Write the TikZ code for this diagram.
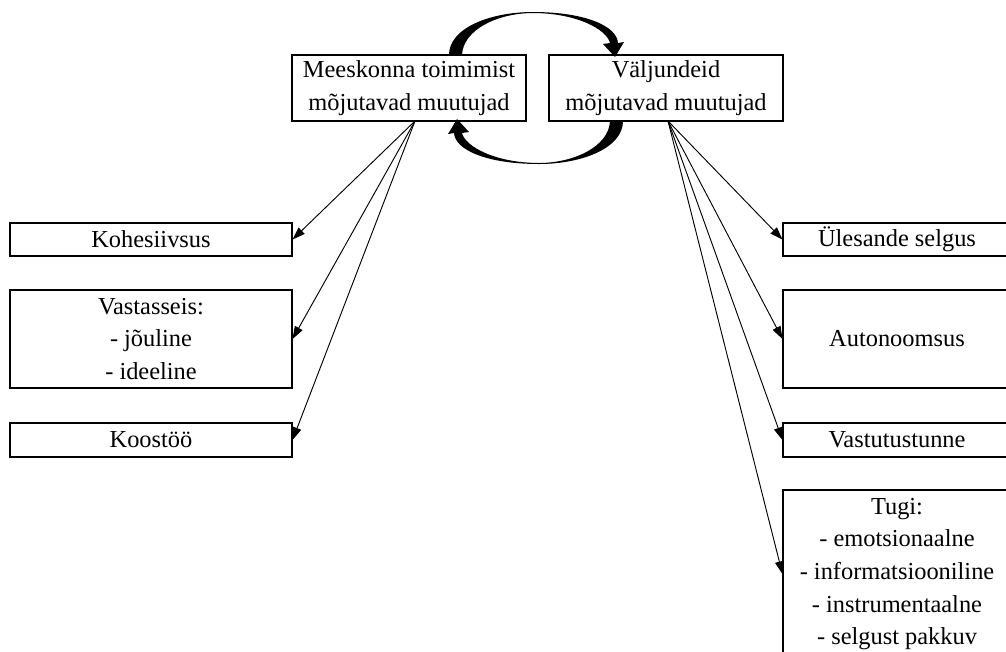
\documentclass[tikz,border=0pt]{standalone}
\usepackage{fontspec}
\setmainfont{Liberation Serif}
\usetikzlibrary{arrows.meta}

% tapered bent arrow running from the top of the left box to the top of the right box
\newcommand{\bentarrow}{%
  \fill (449,55) .. controls (449,28) and (490,12) .. (533,12)
        .. controls (585,12) and (617,26) .. (618,43)
        -- (624,42) -- (615,57) -- (603,44) -- (610,43)
        .. controls (607,30) and (578,13.2) .. (533,13)
        .. controls (497,13.2) and (463,30) .. (462,55) -- cycle;}

\begin{document}
\begin{tikzpicture}[x=0.75pt,y=-0.75pt,
  box/.style={draw, line width=0.8pt, inner sep=0pt, align=center,
              font=\fontsize{18.3}{24.5}\selectfont},
  topbox/.style={box, minimum width=175.5pt, minimum height=49.5pt},
  leftbox/.style={box, minimum width=211.5pt},
  rightbox/.style={box, minimum width=171pt},
  link/.style={-{Triangle[length=9.5pt,width=6.5pt]}, line width=0.7pt}]
\useasboundingbox (0,0) rectangle (1006,651);

% the two central groups of variables
\node[topbox] (lt) at (409,88) {Meeskonna toimimist\\mõjutavad muutujad};
\node[topbox] (rt) at (666,88) {Väljundeid\\mõjutavad muutujad};

% variables acting on team functioning
\node[leftbox, minimum height=24.75pt] (koh) at (151,239.5) {Kohesiivsus};
\node[leftbox, minimum height=73.5pt]  (vas) at (151,339)   {Vastasseis:\\- jõuline\\- ideeline};
\node[leftbox, minimum height=25.5pt]  (koo) at (151,440)   {Koostöö};

% variables acting on outcomes
\node[rightbox, minimum height=24.75pt] (ule)  at (897,239.5) {Ülesande selgus};
\node[rightbox, minimum height=73.5pt]  (aut)  at (897,339)   {Autonoomsus};
\node[rightbox, minimum height=25.5pt]  (vast) at (897,440)   {Vastutustunne};
\node[rightbox, minimum height=126pt]   (tug)  at (897,574)
  {Tugi:\\- emotsionaalne\\- informatsiooniline\\- instrumentaalne\\- selgust pakkuv};

% fan-out points under the two central boxes
\coordinate (ls) at (415,121);
\coordinate (rs) at (668,121);

\draw[link] (ls) -- (koh.east);
\draw[link] (ls) -- (vas.east);
\draw[link] (ls) -- (koo.east);

\draw[link] (rs) -- (ule.west);
\draw[link] (rs) -- (aut.west);
\draw[link] (rs) -- (vast.west);
\draw[link] (rs) -- (tug.west);

% mutual influence loop between the two central boxes
\bentarrow
\begin{scope}[rotate around={180:(536,88)}]
  \bentarrow
\end{scope}
\end{tikzpicture}
\end{document}
